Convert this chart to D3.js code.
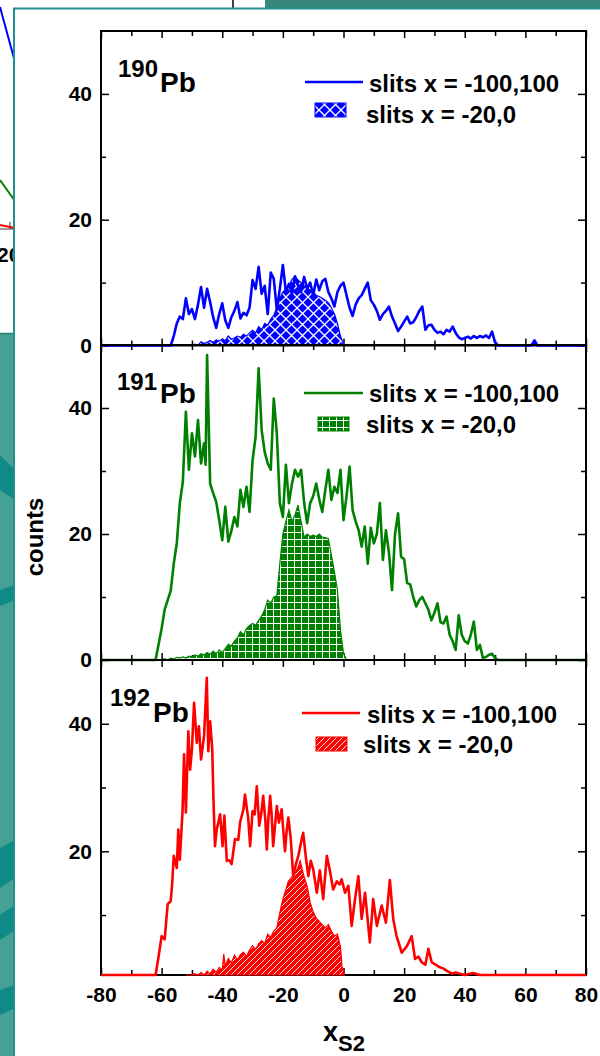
<!DOCTYPE html>
<html><head><meta charset="utf-8">
<script src="https://cdn.jsdelivr.net/npm/d3@7"></script>
<style>
body{margin:0;background:#fff;}
svg{display:block;font-family:"Liberation Sans",Arial,sans-serif;font-weight:bold;}
</style>
</head><body><div id="chart"></div>
<script>
// ---------------- DATA ----------------
const xTicks = [-80, -60, -40, -20, 0, 20, 40, 60, 80];
const xMinorTicks = [-70, -50, -30, -10, 10, 30, 50, 70];
const yMajorTicks = [0, 20, 40];
const yMinorTicks = [10, 30];
const isotopes = ["190", "191", "192"];
const element = "Pb";
const legendLineText = "slits x = -100,100";
const legendFillText = "slits x = -20,0";
const yLabel = "counts";

const line190 = [[-80,0],[-57,0],[-56,1.5],[-55,3.5],[-54,4.6],[-53,4.2],[-52,7.5],[-51,5],[-50,5.8],[-49,4.2],[-48,6.5],[-47,9.3],[-46,6],[-45,9],[-44,6.9],[-43,4.5],[-42,2.8],[-41,5],[-40,6.7],[-39,4],[-38,2.8],[-37,4.5],[-36,5.5],[-35,6.9],[-34,4.3],[-33,5.2],[-32,4.8],[-31,6],[-30,10.4],[-29,9],[-28,12.5],[-27,8.2],[-26,9.5],[-25,5],[-24,11.6],[-23,10.6],[-22,5.7],[-21,9],[-20,12.8],[-19,8.5],[-18,9.8],[-17,8.2],[-16,11],[-15,9.5],[-14,8.5],[-13,10.9],[-12,9],[-11,10],[-10,8],[-9,10.5],[-8,8.8],[-7,10.2],[-6,10.6],[-5,8.5],[-4,7.5],[-3,6.2],[-2,8.5],[-1,9.5],[0,10],[1,8],[2,6],[3,4.7],[4,6.5],[5,7.5],[6,8],[7,9],[8,10],[9,7.2],[10,6.5],[11,5.5],[12,4.1],[13,5],[14,5.5],[15,6.2],[16,4.6],[17,3.5],[18,2.3],[19,3],[20,3.8],[21,4.6],[22,3.5],[23,3.7],[24,4.5],[25,5.5],[26,6.2],[27,2.5],[28,3.2],[29,3.3],[30,2.5],[31,2],[32,2.2],[33,1.8],[34,2.5],[35,2.2],[36,3],[37,2],[38,1.3],[39,1],[40,1.2],[41,1.4],[42,1.1],[43,1.5],[44,1.2],[45,1.5],[46,1.3],[47,1.6],[48,1.2],[49,2.2],[50,0.5],[51,0],[62,0],[63,0.8],[64,0],[80,0]];
const fill190 = [[-50,0],[-49,0.2],[-48,0],[-47,0.6],[-46,0.3],[-45,0.5],[-44,0.8],[-43,0.5],[-42,0.9],[-41,0.7],[-40,1],[-39,0.8],[-38,1.5],[-37,1],[-36,1.2],[-35,1.5],[-34,1.3],[-33,1.8],[-32,1.5],[-31,2],[-30,2.4],[-29,2],[-28,3],[-27,2.5],[-26,3.5],[-25,3.2],[-24,4.2],[-23,4.8],[-22,6],[-21,7.5],[-20,8.5],[-19,9],[-18,9.5],[-17,10.5],[-16,11],[-15,10.4],[-14,10],[-13,9.5],[-12,9.2],[-11,8.8],[-10,8.5],[-9,8],[-8,7.8],[-7,7.5],[-6,7.2],[-5,6.8],[-4,6],[-3,5],[-2,3.5],[-1,1.5],[0,0.2],[1,0]];

const line191 = [[-80,0],[-62,0],[-61,2.5],[-60,5],[-59,8],[-58,9.5],[-57,11],[-56,15.3],[-55,18.5],[-54,24.9],[-53,28.3],[-52,39.4],[-51,30.2],[-50,36],[-49,32.3],[-48,38.1],[-47,31.2],[-46,34.4],[-45.5,31],[-45,48.4],[-44,28],[-43,26.5],[-42,25.1],[-41,22.2],[-40,19],[-39,24.3],[-38,18.8],[-37,20.5],[-36,22.7],[-35,21.2],[-34,27],[-33,24.3],[-32,27.5],[-31,23.5],[-30,31.7],[-29,35.4],[-28,46.3],[-27,36.5],[-26,33],[-25,31.2],[-24,30.2],[-23,41.5],[-22,36],[-21,24.9],[-20,22.7],[-19,31],[-18,24.9],[-17,28],[-16,30.2],[-15,29.1],[-14,30.2],[-13,25],[-12,21.7],[-11,24.9],[-10,26],[-9,28],[-8,25.5],[-7,23.5],[-6,27],[-5,30.2],[-4,25.4],[-3,27.5],[-2,26.5],[-1,30.2],[0,22.2],[1,26],[2,30.7],[3,23.8],[4,22],[5,20.6],[6,18],[7,21.2],[8,15.3],[9,21],[10,18.5],[11,20],[12,24.9],[13,15.9],[14,20.6],[15,17],[16,11.1],[17,20],[18,23.3],[19,16.4],[20,16],[21,12.2],[22,12],[23,10],[24,8.5],[25,9.5],[26,10],[27,9],[28,8],[29,6.3],[30,7.5],[31,9],[32,6],[33,5.8],[34,6.9],[35,4],[36,3],[37,1.6],[38,7.1],[39,4],[40,3],[41,2.6],[42,4],[43,6.1],[44,1.6],[45,2.4],[46,0.3],[47,0.5],[48,0.8],[49,1],[50,0.3],[51,0],[80,0]];
const fill191 = [[-60,0],[-59,0.2],[-58,0],[-57,0.3],[-56,0.2],[-55,0.4],[-54,0.3],[-53,0.5],[-52,0.3],[-51,0.6],[-50,0.5],[-49,0.8],[-48,0.6],[-47,1],[-46,0.8],[-45,1.2],[-44,0.9],[-43,1.4],[-42,1],[-41,1.6],[-40,1.2],[-39,1.8],[-38,2.5],[-37,2.2],[-36,3],[-35,3.5],[-34,4.5],[-33,4],[-32,5],[-31,5.5],[-30,5.8],[-29,5.5],[-28,6.3],[-27,7],[-26,8],[-25,9.5],[-24,9],[-23,10],[-22,10.2],[-21,15.3],[-20,20],[-19,22],[-18,23.8],[-17,22],[-16,23],[-15,24.6],[-14,22],[-13,19.5],[-12,20],[-11,19.6],[-10,19.8],[-9,19.6],[-8,20],[-7,19.5],[-6,19.4],[-5,19.3],[-4,16.7],[-3,14],[-2,11.1],[-1,4.8],[0,1],[1,0]];

const line192 = [[-80,0],[-62,0],[-61,3.5],[-60,6.7],[-59,6.2],[-58,11.7],[-57,12.2],[-56.5,15.1],[-56,19.3],[-55,17.4],[-54.5,23.4],[-54,18.7],[-53.1,26.3],[-52.6,35.2],[-52,26.1],[-51.2,38.8],[-50.6,32.8],[-50,36],[-49.3,43.3],[-48.4,37],[-47.7,39.6],[-47,34.4],[-46,38.1],[-45.1,47.2],[-44.6,35.7],[-44,40.4],[-43.3,36],[-42.9,28.1],[-42.4,20.8],[-41.8,23.5],[-41.3,24.5],[-40.7,25.8],[-39.9,20.8],[-39.3,25.6],[-38.5,18.5],[-37.7,18.6],[-36.9,18],[-35.8,21.9],[-34.7,21.8],[-34.1,24.6],[-33,26.6],[-32.5,28.9],[-31.4,25],[-30.8,20.8],[-30,26.3],[-29.3,25.8],[-28.6,30.2],[-27.8,24],[-27.1,26],[-26.5,28.7],[-25.8,25],[-25.3,20.3],[-24.8,25],[-24.2,28.7],[-23.7,25.6],[-23.2,20.8],[-22.6,24],[-22,27.1],[-21.3,24.5],[-20.4,26.6],[-19.9,23.5],[-19.3,20],[-18.8,23],[-18.2,25.3],[-17.4,22],[-16.6,16.1],[-15.7,18],[-14.9,19.3],[-13.8,21.9],[-13.3,22.9],[-12.4,19],[-11.6,16.1],[-10.8,18.5],[-10,17.2],[-8.8,13.5],[-7.8,17],[-6.7,12.5],[-5.5,19.3],[-4.5,17],[-3.4,14],[-2.2,15.3],[-1.3,14.8],[-0.6,15.6],[0.5,13.5],[1.6,14.6],[2.7,8.3],[3.8,12.5],[4.9,16.1],[6,9.4],[7.1,13.5],[8.7,5.7],[9.8,12.5],[11,8.3],[12.6,11.5],[14,8.8],[15.3,15.5],[16.4,9.4],[17.5,6.7],[18.3,5.5],[19.2,4.1],[20.9,5.1],[22.5,6.7],[23.6,3.1],[24.7,3.5],[25.8,2.6],[27,2.2],[28,4.7],[29.1,2.6],[30.5,2.2],[31.8,1.8],[33,1.6],[34,1.3],[35.7,0.8],[37,1],[38.4,0.8],[40,0.6],[42.8,0.9],[45,0.5],[50,0.4],[56,0.2],[60,0],[80,0]];
const fill192 = [[-52,0],[-51,0.6],[-50,0.3],[-49,0.8],[-48,0.4],[-47,1],[-46,0.6],[-45,1.2],[-44,0.8],[-43,1.5],[-42,1],[-41,1.8],[-40,1.4],[-39.5,3.9],[-39,2],[-38,3.2],[-37,2.5],[-36,3.7],[-35,3],[-34,3.8],[-33,4.2],[-32,3.5],[-31,4.5],[-30,5.2],[-29,4.6],[-28,5.5],[-27,6],[-26,5.5],[-25,7],[-24,6.5],[-23,7.5],[-22,8],[-21,10.4],[-20,12.5],[-19,14],[-18.2,15.3],[-17,16],[-16,16.5],[-15,17.5],[-14.3,18.5],[-13,16],[-12,14.5],[-11,12],[-10,10.5],[-9,9.5],[-8,9],[-7,8.5],[-6,8],[-5,8.5],[-4,7.5],[-3,6.7],[-2,7],[-1,5],[-0.5,2],[0.3,0]];

const seriesLines = [line190, line191, line192];
const seriesFills = [fill190, fill191, fill192];
const seriesColors = ["#0000ff", "#008000", "#ff0000"];
const yDomainMin = [0, 0, 0.6];
const yDomainMax = 50;

// ---------------- LAYOUT ----------------
const W = 600, H = 1056;
const xL = 101, xR = 586;
const panelTop = [31, 345, 660];
const panelBottom = [345.5, 660, 975];
const labelPos = [{sx:118, sy:77, px:160, py:92}, {sx:117, sy:390, px:160, py:403}, {sx:110, sy:706, px:153, py:722}];
const legendPos = [
  {ly:82, lx0:305, lx1:363, t1x:369, t1y:92, bx:315, by:103, t2x:366, t2y:123},
  {ly:393, lx0:304, lx1:363, t1x:369, t1y:402, bx:318, by:417, t2x:366, t2y:433},
  {ly:713, lx0:302, lx1:360, t1x:367, t1y:723, bx:316, by:737, t2x:363, t2y:753}
];

const svg = d3.select("#chart").append("svg").attr("width", W).attr("height", H);
const defs = svg.append("defs");

// patterns
const p0 = defs.append("pattern").attr("id","pat0").attr("patternUnits","userSpaceOnUse").attr("width",11).attr("height",11);
p0.append("rect").attr("width",11).attr("height",11).attr("fill",seriesColors[0]);
p0.append("path").attr("d","M0,0L11,11M11,0L0,11").attr("stroke","#fff").attr("stroke-width",1.3);
const p1 = defs.append("pattern").attr("id","pat1").attr("patternUnits","userSpaceOnUse").attr("width",7).attr("height",7);
p1.append("rect").attr("width",7).attr("height",7).attr("fill",seriesColors[1]);
p1.append("path").attr("d","M0,0.5H7M0.5,0V7").attr("stroke","#fff").attr("stroke-width",1);
const p2 = defs.append("pattern").attr("id","pat2").attr("patternUnits","userSpaceOnUse").attr("width",6).attr("height",6);
p2.append("rect").attr("width",6).attr("height",6).attr("fill",seriesColors[2]);
p2.append("path").attr("d","M0,6L6,0M-1,1L1,-1M5,7L7,5").attr("stroke","#fff").attr("stroke-width",0.9);

// ---------------- BACKGROUND (slide behind) ----------------
svg.append("rect").attr("width",W).attr("height",H).attr("fill","#fff");
svg.append("rect").attr("x",265).attr("y",0).attr("width",335).attr("height",8).attr("fill","#37877b");
svg.append("line").attr("x1",233).attr("x2",233).attr("y1",0).attr("y2",8).attr("stroke","#000").attr("stroke-width",1.5);
svg.append("path").attr("d","M0,7L15,62").attr("stroke","#0000ff").attr("stroke-width",2).attr("fill","none");
svg.append("path").attr("d","M0,180L15,201").attr("stroke","#008000").attr("stroke-width",2).attr("fill","none");
svg.append("path").attr("d","M0,229H15M10,222V229").attr("stroke","#333").attr("stroke-width",1).attr("fill","none");
svg.append("path").attr("d","M0,225L15,228").attr("stroke","#ff0000").attr("stroke-width",2).attr("fill","none");
svg.append("text").attr("x",-3).attr("y",262).attr("font-size",21).text("20");
svg.append("rect").attr("x",0).attr("y",333).attr("width",15).attr("height",H-333).attr("fill","#45a194");
svg.append("line").attr("x1",0).attr("x2",15).attr("y1",333.5).attr("y2",333.5).attr("stroke","#2a7e74").attr("stroke-width",1.5);
[[455,490,470,500],[590,606,585,600],[848,888,840,878],[915,940,905,930],[990,1015,985,1008]].forEach(b=>{
  svg.append("path").attr("d",`M0,${b[0]}L15,${b[2]}L15,${b[3]}L0,${b[1]}Z`).attr("fill","#0f8a86");
});

// white panel
svg.append("rect").attr("x",14).attr("y",8.5).attr("width",700).attr("height",1100)
  .attr("fill","#fff").attr("stroke","#1f9191").attr("stroke-width",2);

// ---------------- PANELS ----------------
const x = d3.scaleLinear().domain([-80, 80]).range([xL, xR]);
const fmt = d => String(d);

for (let i = 0; i < 3; i++) {
  const top = panelTop[i], bot = panelBottom[i];
  const y = d3.scaleLinear().domain([yDomainMin[i], yDomainMax]).range([bot, top]).clamp(true);
  const g = svg.append("g");
  const col = seriesColors[i];

  defs.append("clipPath").attr("id","clip"+i).append("rect")
    .attr("x",xL).attr("y",top).attr("width",xR-xL).attr("height",bot-top+2);

  // frame
  g.append("rect").attr("x",xL).attr("y",top).attr("width",xR-xL).attr("height",bot-top)
    .attr("fill","none").attr("stroke","#000").attr("stroke-width",2);

  const axStyle = a => { a.select(".domain").remove(); a.selectAll("line").attr("stroke","#000").attr("stroke-width",1.5); a.selectAll("text").attr("font-size",21).attr("font-weight","bold").attr("font-family","'Liberation Sans',Arial,sans-serif").attr("fill","#000"); };

  // left axis
  const leftMajors = yMajorTicks.filter(v => v >= yDomainMin[i]);
  g.append("g").attr("transform",`translate(${xL},0)`)
    .call(d3.axisLeft(y).tickValues(leftMajors).tickSize(-8).tickPadding(9).tickFormat(fmt)).call(axStyle);
  g.append("g").attr("transform",`translate(${xL},0)`)
    .call(d3.axisLeft(y).tickValues(yMinorTicks).tickSize(-5).tickFormat("")).call(axStyle);
  // right axis
  g.append("g").attr("transform",`translate(${xR},0)`)
    .call(d3.axisRight(y).tickValues(leftMajors).tickSize(-8).tickFormat("")).call(axStyle);
  g.append("g").attr("transform",`translate(${xR},0)`)
    .call(d3.axisRight(y).tickValues(yMinorTicks).tickSize(-5).tickFormat("")).call(axStyle);
  // top ticks
  g.append("g").attr("transform",`translate(0,${top})`)
    .call(d3.axisTop(x).tickValues(xTicks).tickSize(-7).tickFormat("")).call(axStyle);
  g.append("g").attr("transform",`translate(0,${top})`)
    .call(d3.axisTop(x).tickValues(xMinorTicks).tickSize(-5).tickFormat("")).call(axStyle);
  // bottom ticks
  const bAx = d3.axisBottom(x).tickValues(xTicks).tickSize(-7).tickPadding(12).tickFormat(i < 2 ? "" : fmt);
  g.append("g").attr("transform",`translate(0,${bot})`).call(bAx).call(axStyle);
  g.append("g").attr("transform",`translate(0,${bot})`)
    .call(d3.axisBottom(x).tickValues(xMinorTicks).tickSize(-5).tickFormat("")).call(axStyle);

  // data
  const cg = g.append("g").attr("clip-path",`url(#clip${i})`);
  const area = d3.area().x(d => x(d[0])).y0(y(yDomainMin[i])).y1(d => y(d[1]));
  const line = d3.line().x(d => x(d[0])).y(d => y(d[1]));
  cg.append("path").datum(seriesFills[i]).attr("d",area)
    .attr("fill",`url(#pat${i})`).attr("stroke",col).attr("stroke-width",1.2);
  cg.append("path").datum(seriesLines[i]).attr("d",line)
    .attr("fill","none").attr("stroke",col).attr("stroke-width",2.6).attr("stroke-linejoin","round");

  // isotope label
  const lp = labelPos[i];
  g.append("text").attr("x",lp.sx).attr("y",lp.sy).attr("font-size",24).text(isotopes[i]);
  g.append("text").attr("x",lp.px).attr("y",lp.py).attr("font-size",28).text(element);

  // legend
  const L = legendPos[i];
  g.append("line").attr("x1",L.lx0).attr("x2",L.lx1).attr("y1",L.ly).attr("y2",L.ly)
    .attr("stroke",col).attr("stroke-width",2.4);
  g.append("text").attr("x",L.t1x).attr("y",L.t1y).attr("font-size",24).text(legendLineText);
  g.append("rect").attr("x",L.bx).attr("y",L.by).attr("width",31).attr("height",14)
    .attr("fill",`url(#pat${i})`).attr("stroke",col).attr("stroke-width",1);
  g.append("text").attr("x",L.t2x).attr("y",L.t2y).attr("font-size",24).text(legendFillText);
}

// axis titles
svg.append("text").attr("transform","translate(43,537) rotate(-90)").attr("text-anchor","middle")
  .attr("font-size",24).text(yLabel);
const xt = svg.append("text").attr("x",323).attr("y",1041);
xt.append("tspan").attr("font-size",27).text("x");
xt.append("tspan").attr("font-size",22).attr("dy",10).text("S2");
</script>
</body></html>
